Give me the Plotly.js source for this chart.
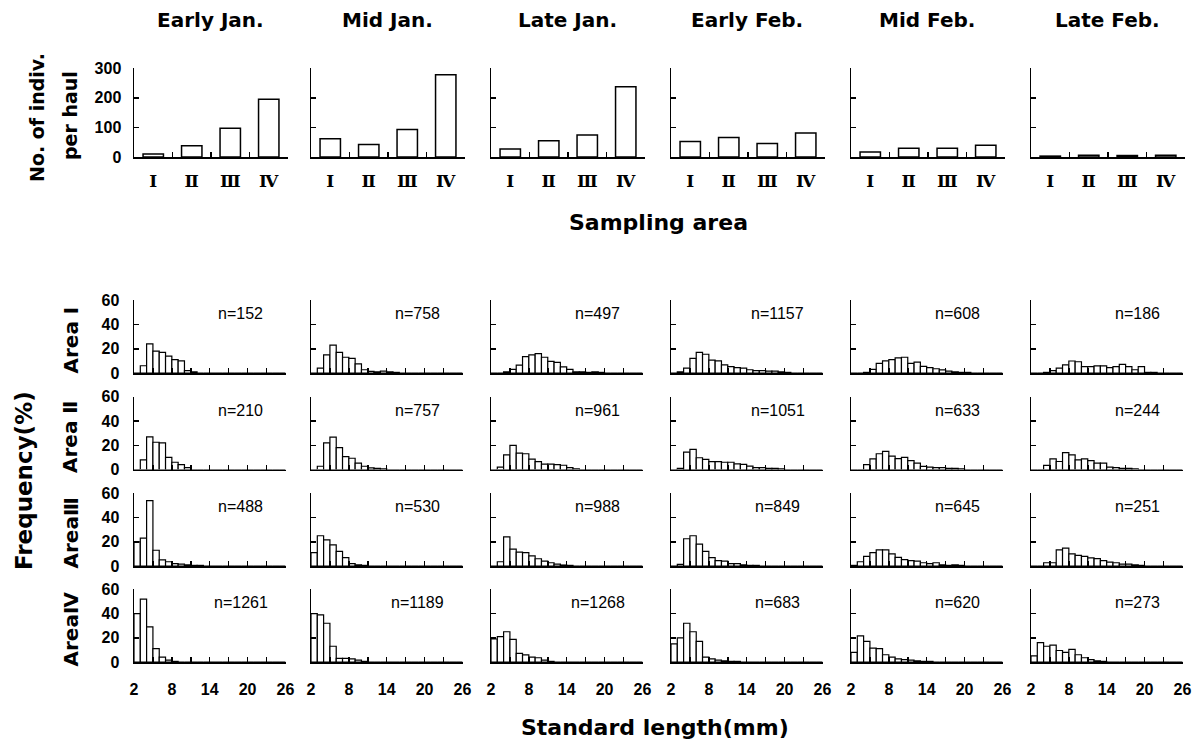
<!DOCTYPE html>
<html><head><meta charset="utf-8">
<script src="https://cdn.plot.ly/plotly-3.0.1.min.js"></script>
<style>html,body{margin:0;padding:0;background:#fff}#chart{width:1194px;height:749px}</style>
</head><body><div id="chart"></div>
<script>
// ---------- data ----------
const periods = ['Early Jan.', 'Mid Jan.', 'Late Jan.', 'Early Feb.', 'Mid Feb.', 'Late Feb.'];
const sites = ['Ⅰ', 'Ⅱ', 'Ⅲ', 'Ⅳ'];
const areaLabels = ['Area Ⅰ', 'Area Ⅱ', 'AreaⅢ', 'AreaⅣ'];

// No. of individuals per haul (areas I–IV)
const haulEarlyJan = [10, 38, 97, 195];
const haulMidJan   = [62, 42, 93, 278];
const haulLateJan  = [27, 55, 74, 238];
const haulEarlyFeb = [52, 66, 46, 81];
const haulMidFeb   = [17, 30, 30, 40];
const haulLateFeb  = [3, 6, 5, 6];

// length classes (mm, 1-mm classes 2-3 ... 25-26, drawn at class centres)
const lengthClass = [2.5,3.5,4.5,5.5,6.5,7.5,8.5,9.5,10.5,11.5,12.5,13.5,14.5,15.5,16.5,17.5,18.5,19.5,20.5,21.5,22.5,23.5,24.5,25.5];

// frequency (%) – Early Jan.
const ejA1 = [0,6,24,18,17,14,11,10,2,1,0,0,0,0,0,0,0,0,0,0,0,0,0,0];
const ejA2 = [0,8,27,22.5,22,10,6,4,1.5,0,0,0,0,0,0,0,0,0,0,0,0,0,0,0];
const ejA3 = [20,23,54,13,5,3.5,2,1.5,1,0.5,0.5,0,0,0,0,0,0,0,0,0,0,0,0,0];
const ejA4 = [40,52,29,11,4,1.5,0.5,0,0,0,0,0,0,0,0,0,0,0,0,0,0,0,0,0];
// Mid Jan.
const mjA1 = [0,4,15,23,17,13,12,7.5,2.7,1.3,1,1.5,1,0.5,0,0,0,0,0,0,0,0,0,0];
const mjA2 = [0,2.7,22,26.7,18,10.7,9.3,5.3,2.7,1.3,1,0.5,0,0,0,0,0,0,0,0,0,0,0,0];
const mjA3 = [11,25,21.5,17.5,12,7,2,1,0.5,0,0,0,0,0,0,0,0,0,0,0,0,0,0,0];
const mjA4 = [40,39,32,13,3,3,2.5,1.5,0.5,0,0,0,0,0,0,0,0,0,0,0,0,0,0,0];
// Late Jan.
const ljA1 = [0,0,1,3,6.5,13.5,15,16,13,9.6,8.8,5,3,1,1,0.5,1,0.5,0,0,0,0,0,0];
const ljA2 = [0,2,12,20,13.5,13,8.5,6.5,4.5,4.5,4,3.5,1.5,0.5,0,0,0,0,0,0,0,0,0,0];
const ljA3 = [0,3.5,24,14,11.5,11,8.3,6,4,2.7,1.6,0.8,0.5,0,0,0,0,0,0,0,0,0,0,0];
const ljA4 = [19,21,25,18.7,7.2,5.9,4,3.5,1.5,0.5,0,0,0,0,0,0,0,0,0,0,0,0,0,0];
// Early Feb.
const efA1 = [0,1,4,12,17,15.5,10.7,10,6.7,5.3,4.5,4,2.7,2,2,1.5,1.5,1,0.5,0,0,0,0,0];
const efA2 = [0,1,14.4,16.7,9.7,8.3,6.5,6.5,6,6,4.7,4.2,2.8,1.5,1.5,1,1,0.5,0,0,0,0,0,0];
const efA3 = [0,1.3,22.5,25,18,12,7,4.5,4,2,2,1,0.5,0.5,0,0,0,0,0,0,0,0,0,0];
const efA4 = [15,20,32,25,17,4,2.5,1.5,1,0.5,0.5,0,0,0,0,0,0,0,0,0,0,0,0,0];
// Mid Feb.
const mfA1 = [0,0,0.5,3,8,10,11,12.5,13,8,9,5.5,4.5,3.5,2.5,1.5,1,0.5,0.5,0,0,0,0,0];
const mfA2 = [0,0,4,8.7,13,15,11,9,10,7.4,5.3,2.6,2,1.5,1.5,1,1,0.5,0,0,0,0,0,0];
const mfA3 = [0.5,3.5,8,11,13.3,13.3,10,7.2,5.3,4.5,4,2.7,2,2.7,1,0.5,1,0.5,0,0,0,0,0,0];
const mfA4 = [8,21.5,17,11.5,11,6,4,2.5,2,1.5,1,0.5,0.5,0,0,0,0,0,0,0,0,0,0,0];
// Late Feb.
const lfA1 = [0,0,0.5,1.9,4,6.7,9.9,9.3,5.3,5.3,5.9,5.9,4.5,5.3,7.2,5.3,2.7,5.3,0.5,0.5,0,0,0,0];
const lfA2 = [0,0,3.4,8.7,6.6,14,12,7.9,8.7,7.4,5.3,5.3,2,1.5,1,1,0.5,0,0,0,0,0,0,0];
const lfA3 = [0,0,2.7,2.7,13.3,14.7,10,8.8,8,6.7,6.1,4.5,3.2,2.7,1.5,1.5,1,0.5,0,0,0,0,0,0];
const lfA4 = [5,16,13,14,9.5,8,10.5,6,3.5,2,1,0.5,0,0,0,0,0,0,0,0,0,0,0,0];

// sample sizes
const nArea1 = [152, 758, 497, 1157, 608, 186];
const nArea2 = [210, 757, 961, 1051, 633, 244];
const nArea3 = [488, 530, 988, 849, 645, 251];
const nArea4 = [1261, 1189, 1268, 683, 620, 273];

const lengthTickVals = [2,5,8,11,14,17,20,23,26];
const lengthTickText = ['2','','8','','14','','20','','26'];

// ---------- assembly ----------
const haul = [haulEarlyJan, haulMidJan, haulLateJan, haulEarlyFeb, haulMidFeb, haulLateFeb];
const freq = [
  [ejA1, mjA1, ljA1, efA1, mfA1, lfA1],
  [ejA2, mjA2, ljA2, efA2, mfA2, lfA2],
  [ejA3, mjA3, ljA3, efA3, mfA3, lfA3],
  [ejA4, mjA4, ljA4, efA4, mfA4, lfA4]
];
const nVals = [nArea1, nArea2, nArea3, nArea4];

const W = 1194, H = 749;
const px = x => x / W, py = y => 1 - y / H;
const colX = [134, 311, 491, 671, 851, 1031];
const panelW = 152;
const topY = [68, 157];
const rowTop = [300, 396.5, 493, 589];
const rowH = 73;

const numFont = {family: 'Liberation Sans, Arial, sans-serif', size: 16, color: '#000', weight: 'bold'};
const txtFont = s => ({family: 'DejaVu Sans, sans-serif', size: s, color: '#000', weight: 'bold'});

const traces = [];
const layout = {
  width: W, height: H, margin: {l: 0, r: 0, t: 0, b: 0},
  paper_bgcolor: '#fff', plot_bgcolor: '#fff', showlegend: false,
  bargap: 0, annotations: []
};

let k = 0;
function axId(i) { return i === 1 ? '' : String(i); }

// top bar charts
for (let c = 0; c < 6; c++) {
  k++;
  const id = axId(k);
  traces.push({
    type: 'bar', x: sites, y: haul[c], xaxis: 'x' + id, yaxis: 'y' + id,
    width: 0.53, marker: {color: '#fff', line: {color: '#000', width: 1.5}},
    hoverinfo: 'y'
  });
  layout['xaxis' + id] = {
    domain: [px(colX[c]), px(colX[c] + panelW + 2)], anchor: 'y' + id,
    type: 'category', tickson: 'boundaries', ticks: 'inside', ticklen: 5, tickwidth: 1.5, tickcolor: '#000',
    showline: true, linecolor: '#000', linewidth: 1.5, showgrid: false, zeroline: false,
    tickfont: {family: 'DejaVu Serif, Liberation Serif, serif', size: 17, color: '#000', weight: 'bold'},
    ticklabelstandoff: 8, fixedrange: true
  };
  layout['yaxis' + id] = {
    domain: [py(topY[1]), py(topY[0])], anchor: 'x' + id,
    range: [0, 301], tickvals: [0, 100, 200, 300], ticks: 'inside', ticklen: 5, tickwidth: 1.5, tickcolor: '#000',
    showline: true, linecolor: '#000', linewidth: 1.5, showgrid: false, zeroline: false,
    showticklabels: c === 0, tickfont: numFont, ticklabelstandoff: 8, fixedrange: true
  };
  layout.annotations.push({
    text: periods[c], xref: 'paper', yref: 'paper', x: px(colX[c] + 76), y: py(20),
    xanchor: 'center', yanchor: 'middle', showarrow: false, font: txtFont(20)
  });
}

// histograms
for (let r = 0; r < 4; r++) {
  for (let c = 0; c < 6; c++) {
    k++;
    const id = axId(k);
    traces.push({
      type: 'bar', x: lengthClass, y: freq[r][c], xaxis: 'x' + id, yaxis: 'y' + id,
      width: 1, marker: {color: '#fff', line: {color: '#000', width: 1.2}},
      hoverinfo: 'x+y'
    });
    layout['xaxis' + id] = {
      domain: [px(colX[c]), px(colX[c] + panelW)], anchor: 'y' + id,
      range: [2, 26.1], tickvals: lengthTickVals, ticktext: lengthTickText,
      ticks: 'inside', ticklen: 5, tickwidth: 1.5, tickcolor: '#000',
      showline: true, linecolor: '#000', linewidth: 1.5, showgrid: false, zeroline: false,
      showticklabels: r === 3, tickfont: numFont, ticklabelstandoff: 12, fixedrange: true
    };
    layout['yaxis' + id] = {
      domain: [py(rowTop[r] + rowH), py(rowTop[r])], anchor: 'x' + id,
      range: [0, 60.3], tickvals: [0, 20, 40, 60], ticks: 'inside', ticklen: 5, tickwidth: 1.5, tickcolor: '#000',
      showline: true, linecolor: '#000', linewidth: 1.5, showgrid: false, zeroline: false,
      showticklabels: c === 0, tickfont: numFont, ticklabelstandoff: 10, fixedrange: true
    };
    layout.annotations.push({
      text: 'n=' + nVals[r][c], xref: 'x' + id, yref: 'y' + id, x: 18.9, y: 49,
      xanchor: 'center', yanchor: 'middle', showarrow: false,
      font: {family: 'Liberation Sans, Arial, sans-serif', size: 16, color: '#000', weight: 500}
    });
  }
  layout.annotations.push({
    text: areaLabels[r], xref: 'paper', yref: 'paper', x: px(70), y: py(rowTop[r] + rowH / 2 + 4),
    xanchor: 'center', yanchor: 'middle', showarrow: false, textangle: -90, font: txtFont(20)
  });
}

// axis titles
layout.annotations.push(
  {text: 'No. of indiv.', xref: 'paper', yref: 'paper', x: px(37), y: py(118), xanchor: 'center', yanchor: 'middle',
   showarrow: false, textangle: -90, font: txtFont(19)},
  {text: 'per haul', xref: 'paper', yref: 'paper', x: px(70), y: py(116), xanchor: 'center', yanchor: 'middle',
   showarrow: false, textangle: -90, font: txtFont(19)},
  {text: 'Sampling area', xref: 'paper', yref: 'paper', x: px(658), y: py(222), xanchor: 'center', yanchor: 'middle',
   showarrow: false, font: txtFont(22)},
  {text: 'Frequency(%)', xref: 'paper', yref: 'paper', x: px(24), y: py(481), xanchor: 'center', yanchor: 'middle',
   showarrow: false, textangle: -90, font: txtFont(23)},
  {text: 'Standard length(mm)', xref: 'paper', yref: 'paper', x: px(655), y: py(727), xanchor: 'center', yanchor: 'middle',
   showarrow: false, font: txtFont(22)}
);

Plotly.newPlot('chart', traces, layout, {staticPlot: true, displayModeBar: false});
</script></body></html>
